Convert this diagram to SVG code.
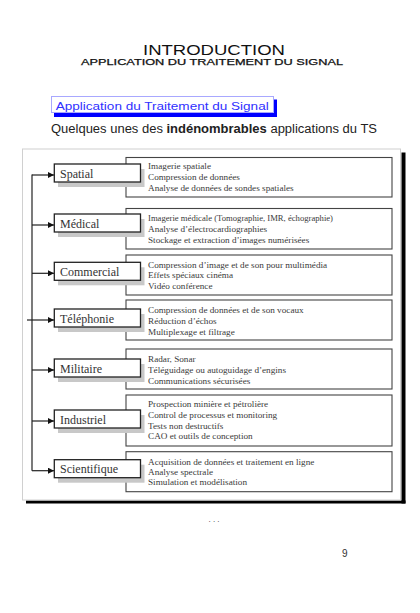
<svg xmlns="http://www.w3.org/2000/svg" width="420" height="613" viewBox="0 0 420 613">
<style>
.hdr{font-family:"Liberation Sans",Arial,sans-serif;fill:#111}
.lbl{font-family:"Liberation Serif","Times New Roman",serif;font-size:12px;fill:#333}
.det{font-family:"Liberation Serif","Times New Roman",serif;font-size:9.2px;fill:#3a3a3a}
.lbox{fill:#fff;stroke:#222;stroke-width:1.3}
.lsh{fill:#c8c8c8}
.dbox{fill:#fff;stroke:#444;stroke-width:1.1}
.conn{fill:none;stroke:#222;stroke-width:1.2}
</style>
<defs>
<marker id="ah" viewBox="0 0 6 6" refX="6" refY="3" markerWidth="6" markerHeight="6" markerUnits="userSpaceOnUse" orient="auto">
<path d="M0,0 L6,3 L0,6 z" fill="#111"/>
</marker>
</defs>
<rect width="420" height="613" fill="#fff"/>
<g id="header">
<text class="hdr" x="143" y="55" font-size="14" textLength="142" lengthAdjust="spacingAndGlyphs">INTRODUCTION</text>
<text class="hdr" x="81" y="65" font-size="8.5" stroke="#111" stroke-width="0.25" textLength="262" lengthAdjust="spacingAndGlyphs">APPLICATION DU TRAITEMENT DU SIGNAL</text>
</g>
<g id="blue-title">
<rect x="54" y="99.5" width="223" height="17.5" fill="#0000ff"/>
<rect x="51.5" y="96.5" width="222" height="16" fill="#fff" stroke="#a8a8ff" stroke-width="1"/>
<text x="55.7" y="110" font-family="'Liberation Sans',Arial,sans-serif" font-size="11.5" fill="#3030ff" textLength="213" lengthAdjust="spacingAndGlyphs">Application du Traitement du Signal</text>
</g>
<text x="51" y="133" font-family="'Liberation Sans',Arial,sans-serif" font-size="12.5" fill="#222" textLength="326" lengthAdjust="spacingAndGlyphs">Quelques unes des <tspan font-weight="bold">indénombrables</tspan> applications du TS</text>
<g id="panel">
<rect x="401.5" y="152.5" width="4" height="351" fill="#000"/>
<rect x="26" y="500.5" width="379.5" height="3" fill="#000"/>
<rect x="22.5" y="149" width="378" height="351" fill="#fff" stroke="#d0d0d0" stroke-width="1"/>
</g>
<g id="details">
<rect class="dbox" x="126" y="157.5" width="266" height="39.5"/>
<rect class="dbox" x="126" y="208.5" width="266" height="40.5"/>
<rect class="dbox" x="126" y="255" width="266" height="40"/>
<rect class="dbox" x="126" y="300" width="266" height="40"/>
<rect class="dbox" x="126" y="349" width="266" height="40"/>
<rect class="dbox" x="126" y="395" width="266" height="51"/>
<rect class="dbox" x="126" y="451.7" width="266" height="40"/>
</g>
<g id="connectors">
<path class="conn" d="M32,174.5 V470.7"/>
<path class="conn" d="M27,320 H32"/>
<path class="conn" d="M32,175 H54" marker-end="url(#ah)"/>
<path class="conn" d="M32,225 H54" marker-end="url(#ah)"/>
<path class="conn" d="M32,273.3 H54" marker-end="url(#ah)"/>
<path class="conn" d="M32,320 H54" marker-end="url(#ah)"/>
<path class="conn" d="M32,370 H54" marker-end="url(#ah)"/>
<path class="conn" d="M32,421 H54" marker-end="url(#ah)"/>
<path class="conn" d="M32,470.7 H54" marker-end="url(#ah)"/>
</g>
<g id="spatial">
<rect class="lsh" x="58" y="169" width="86.5" height="18"/>
<rect class="lbox" x="54.3" y="164" width="86.2" height="18"/>
<text class="lbl" x="60" y="177.5">Spatial</text>
<text class="det" x="148" y="169">Imagerie spatiale</text>
<text class="det" x="148" y="180">Compression de données</text>
<text class="det" x="148" y="191">Analyse de données de sondes spatiales</text>
</g>
<g id="medical">
<rect class="lsh" x="58" y="219" width="86.5" height="18"/>
<rect class="lbox" x="54.3" y="214" width="86.2" height="18"/>
<text class="lbl" x="60" y="227.5">Médical</text>
<text class="det" x="148" y="221" textLength="185" lengthAdjust="spacingAndGlyphs">Imagerie médicale (Tomographie, IMR, échographie)</text>
<text class="det" x="148" y="232">Analyse d’électrocardiographies</text>
<text class="det" x="148" y="242.5">Stockage et extraction d’images numérisées</text>
</g>
<g id="commercial">
<rect class="lsh" x="58" y="267.3" width="86.5" height="18"/>
<rect class="lbox" x="54.3" y="262.3" width="86.2" height="18"/>
<text class="lbl" x="60" y="275.8">Commercial</text>
<text class="det" x="148" y="268">Compression d’image et de son pour multimédia</text>
<text class="det" x="148" y="278">Effets spéciaux cinéma</text>
<text class="det" x="148" y="288.5">Vidéo conférence</text>
</g>
<g id="telephonie">
<rect class="lsh" x="58" y="314" width="86.5" height="18"/>
<rect class="lbox" x="54.3" y="309" width="86.2" height="18"/>
<text class="lbl" x="60" y="322.5">Téléphonie</text>
<text class="det" x="148" y="313">Compression de données et de son vocaux</text>
<text class="det" x="148" y="323.5">Réduction d’échos</text>
<text class="det" x="148" y="334.5">Multiplexage et filtrage</text>
</g>
<g id="militaire">
<rect class="lsh" x="58" y="364" width="86.5" height="18"/>
<rect class="lbox" x="54.3" y="359" width="86.2" height="18"/>
<text class="lbl" x="60" y="372.5">Militaire</text>
<text class="det" x="148" y="362">Radar, Sonar</text>
<text class="det" x="148" y="373">Téléguidage ou autoguidage d’engins</text>
<text class="det" x="148" y="383.5">Communications sécurisées</text>
</g>
<g id="industriel">
<rect class="lsh" x="58" y="415" width="86.5" height="18"/>
<rect class="lbox" x="54.3" y="410" width="86.2" height="18"/>
<text class="lbl" x="60" y="423.5">Industriel</text>
<text class="det" x="148" y="407">Prospection minière et pétrolière</text>
<text class="det" x="148" y="418">Control de processus et monitoring</text>
<text class="det" x="148" y="428.5">Tests non destructifs</text>
<text class="det" x="148" y="438.5">CAO et outils de conception</text>
</g>
<g id="scientifique">
<rect class="lsh" x="58" y="464.7" width="86.5" height="18"/>
<rect class="lbox" x="54.3" y="459.7" width="86.2" height="18"/>
<text class="lbl" x="60" y="473.2">Scientifique</text>
<text class="det" x="148" y="465">Acquisition de données et traitement en ligne</text>
<text class="det" x="148" y="475">Analyse spectrale</text>
<text class="det" x="148" y="485">Simulation et modélisation</text>
</g>
<g id="footer">
<text x="214" y="522" text-anchor="middle" font-family="'Liberation Sans',Arial,sans-serif" font-size="8" fill="#333">. . .</text>
<text x="342" y="557" font-family="'Liberation Sans',Arial,sans-serif" font-size="10" fill="#333">9</text>
</g>
</svg>
